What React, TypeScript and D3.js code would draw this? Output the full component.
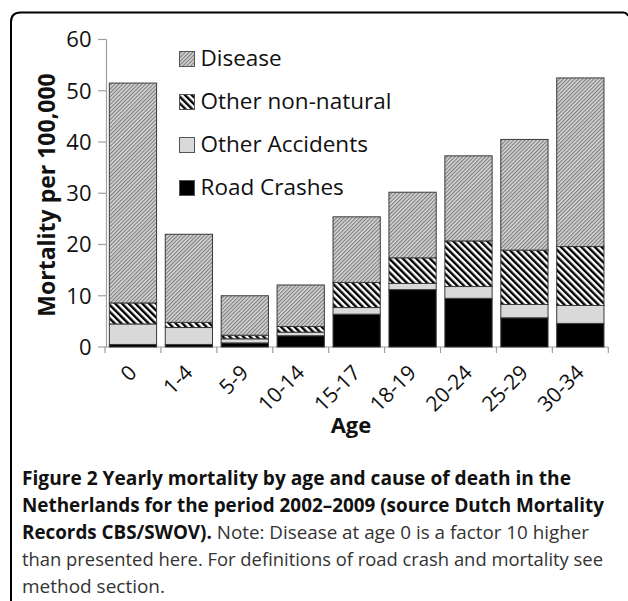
import React from "react";
import * as d3 from "d3";

const ages = ["0", "1-4", "5-9", "10-14", "15-17", "18-19", "20-24", "25-29", "30-34"];
const roadCrashes = [0.5, 0.5, 0.8, 2.2, 6.4, 11.2, 9.5, 5.7, 4.6];
const otherAccidents = [4.0, 3.3, 0.8, 0.7, 1.3, 1.2, 2.3, 2.6, 3.5];
const otherNonNatural = [4.1, 1.0, 0.7, 1.1, 4.9, 5.0, 8.9, 10.6, 11.5];
const disease = [42.9, 17.2, 7.7, 8.1, 12.8, 12.8, 16.6, 21.6, 32.9];
const yTicks = [0, 10, 20, 30, 40, 50, 60];
const seriesKeys = ["road", "accidents", "nonNatural", "disease"];
const legendLabels = ["Disease", "Other non-natural", "Other Accidents", "Road Crashes"];
const legendKeys = ["disease", "nonNatural", "accidents", "road"];
const captionLines = [
  { bold: "Figure 2 Yearly mortality by age and cause of death in the", normal: "", len: 549 },
  { bold: "Netherlands for the period 2002\u20132009 (source Dutch Mortality", normal: "", len: 582 },
  { bold: "Records CBS/SWOV).", normal: " Note: Disease at age 0 is a factor 10 higher", len: 567 },
  { bold: "", normal: "than presented here. For definitions of road crash and mortality see", len: 581 },
  { bold: "", normal: "method section.", len: 143 },
];

const FONT = "'Open Sans', 'DejaVu Sans', sans-serif";

export default function App() {
  const W = 628, H = 601;
  const x = d3.scaleBand<string>().domain(ages).range([105, 608.3]).padding(0);
  const y = d3.scaleLinear().domain([0, 60]).range([347, 39.5]);
  const rows = ages.map((a, i) => ({
    age: a,
    road: roadCrashes[i],
    accidents: otherAccidents[i],
    nonNatural: otherNonNatural[i],
    disease: disease[i],
  }));
  const stacked = d3.stack<any>().keys(seriesKeys)(rows);
  const fills: Record<string, string> = {
    road: "#000",
    accidents: "#d9d9d9",
    nonNatural: "url(#pNon)",
    disease: "url(#pDis)",
  };
  const bw = x.bandwidth() * 0.845;
  const axisColor = "#a0a0a0";

  return (
    <svg width={W} height={H} style={{ display: "block", position: "absolute", left: 0, top: 0 }}>
      <defs>
        <pattern id="pDis" patternUnits="userSpaceOnUse" width="2.7" height="2.7" patternTransform="rotate(45)">
          <rect width="2.7" height="2.7" fill="#d2d2d2" />
          <rect width="1" height="2.7" fill="#7a7a7a" />
        </pattern>
        <pattern id="pNon" patternUnits="userSpaceOnUse" width="4.8" height="4.8" patternTransform="rotate(-45)">
          <rect width="4.8" height="4.8" fill="#fff" />
          <rect width="2.4" height="4.8" fill="#000" />
        </pattern>
      </defs>
      <rect width={W} height={H} fill="#fff" />
      <path d="M11,602 L11,22 Q11,12.5 20.5,12.5 L623,12.5 Q627,12.5 628,16" fill="none" stroke="#000" strokeWidth={2} />

      {/* y axis */}
      <line x1={106.5} x2={106.5} y1={y(60)} y2={y(0)} stroke={axisColor} strokeWidth={1.2} />
      {yTicks.map((t) => (
        <g key={t}>
          <line x1={98} x2={106.5} y1={y(t)} y2={y(t)} stroke={axisColor} strokeWidth={1.2} />
          <text x={91.5} y={y(t)} dy="0.36em" textAnchor="end" fontFamily={FONT} fontWeight={500} fontSize={22} fill="#111">
            {t}
          </text>
        </g>
      ))}
      {/* x axis */}
      <line x1={105} x2={608.3} y1={y(0)} y2={y(0)} stroke={axisColor} strokeWidth={1.2} />
      {ages.map((a) => (
        <line key={a} x1={x(a)!} x2={x(a)!} y1={y(0)} y2={y(0) + 6} stroke={axisColor} strokeWidth={1.2} />
      ))}
      <line x1={608.3} x2={608.3} y1={y(0)} y2={y(0) + 6} stroke={axisColor} strokeWidth={1.2} />

      {/* bars */}
      {stacked.map((s) => (
        <g key={s.key}>
          {s.map((d, i) => {
            const cx = x(ages[i])! + x.bandwidth() / 2;
            return (
              <rect
                key={i}
                x={cx - bw / 2}
                y={y(d[1])}
                width={bw}
                height={y(d[0]) - y(d[1])}
                fill={fills[s.key]}
                stroke="#3a3a3a"
                strokeWidth={1}
              />
            );
          })}
        </g>
      ))}

      {/* x tick labels */}
      {ages.map((a) => {
        const cx = x(a)! + x.bandwidth() / 2 + 5;
        const ty = 374;
        return (
          <text
            key={a}
            x={cx}
            y={ty}
            transform={`rotate(-45 ${cx} ${ty})`}
            textAnchor="end"
            fontFamily={FONT}
            fontWeight={500}
            fontSize={21}
            fill="#111"
          >
            {a}
          </text>
        );
      })}

      {/* axis titles */}
      <text x={351} y={433} textAnchor="middle" fontFamily={FONT} fontWeight={700} fontSize={22} fill="#111">
        Age
      </text>
      <text
        transform="translate(55,195) rotate(-90)"
        textAnchor="middle"
        fontFamily={FONT}
        fontWeight={700}
        fontSize={23}
        fill="#111"
      >
        Mortality per 100,000
      </text>

      {/* legend */}
      {legendKeys.map((k, i) => {
        const by = 65.5 + i * 43;
        return (
          <g key={k}>
            <rect x={179.5} y={by - 14} width={15} height={15} fill={fills[k]} stroke="#555" strokeWidth={1} />
            <text x={200.5} y={by} fontFamily={FONT} fontWeight={500} fontSize={22.5} fill="#111">
              {legendLabels[i]}
            </text>
          </g>
        );
      })}

      {/* caption */}
      {captionLines.map((l, i) => (
        <text
          key={i}
          x={22}
          y={485 + i * 27}
          fontFamily={FONT}
          fontSize={19}
          textLength={l.len}
          lengthAdjust="spacingAndGlyphs"
        >
          {l.bold && (
            <tspan fontWeight={700} fill="#111">
              {l.bold}
            </tspan>
          )}
          {l.normal && (
            <tspan fontWeight={400} fill="#333">
              {l.normal}
            </tspan>
          )}
        </text>
      ))}
    </svg>
  );
}
